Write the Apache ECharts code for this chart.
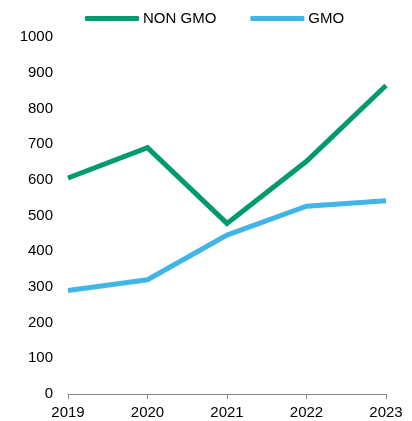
<!DOCTYPE html>
<html>
<head>
<meta charset="utf-8">
<script src="https://cdn.jsdelivr.net/npm/echarts@6/dist/echarts.min.js"></script>
<style>
  html, body { margin: 0; padding: 0; background: #fff; }
  #chart { width: 412px; height: 421px; }
</style>
</head>
<body>
<div id="chart"></div>
<script>
const years = ['2019', '2020', '2021', '2022', '2023']
const nonGmo = [605, 690, 478, 652, 864]
const gmo = [290, 320, 445, 526, 541]

const chart = echarts.init(document.getElementById('chart'))

chart.setOption({
  animation: false,
  textStyle: { fontFamily: 'Liberation Sans, Arial, sans-serif' },
  legend: {
    top: 6,
    left: 80,
    icon: 'roundRect',
    itemWidth: 54,
    itemHeight: 5,
    itemGap: 34,
    textStyle: { fontSize: 15, color: '#000', padding: [0, 0, 0, -1] },
    data: ['NON GMO', 'GMO']
  },
  grid: {
    left: 68,
    right: 26,
    top: 37,
    bottom: 27
  },
  xAxis: {
    type: 'category',
    data: years,
    boundaryGap: false,
    axisLine: { lineStyle: { color: '#888', width: 1 } },
    axisTick: { show: true, length: 5, lineStyle: { color: '#888' } },
    axisLabel: { color: '#000', fontSize: 15, margin: 11 }
  },
  yAxis: {
    type: 'value',
    min: 0,
    max: 1000,
    interval: 100,
    axisLine: { show: false },
    axisTick: { show: false },
    splitLine: { show: false },
    axisLabel: { color: '#000', fontSize: 15, margin: 15, formatter: v => String(v) }
  },
  series: [
    {
      name: 'NON GMO',
      type: 'line',
      symbol: 'none',
      data: nonGmo,
      lineStyle: { width: 5, color: '#009a6e', join: 'miter' },
      itemStyle: { color: '#009a6e' }
    },
    {
      name: 'GMO',
      type: 'line',
      symbol: 'none',
      data: gmo,
      lineStyle: { width: 5, color: '#41b6e6', join: 'miter' },
      itemStyle: { color: '#41b6e6' }
    }
  ]
})
</script>
</body>
</html>
